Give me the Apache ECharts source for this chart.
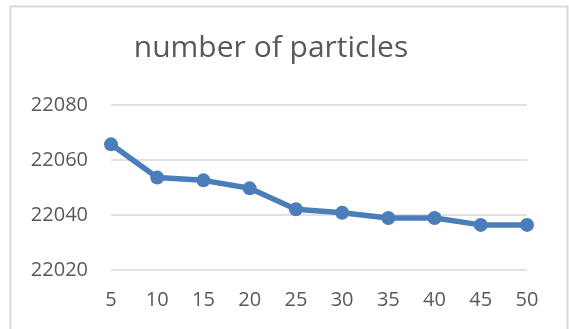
<!DOCTYPE html>
<html>
<head>
<meta charset="utf-8">
<script src="https://cdn.jsdelivr.net/npm/echarts@6/dist/echarts.min.js"></script>
<style>
  html, body { margin: 0; padding: 0; background: #fff; }
  #chart { width: 569px; height: 329px; }
</style>
</head>
<body>
<div id="chart"></div>
<script>
// Iteration counts on the x axis
const categories = ['5', '10', '15', '20', '25', '30', '35', '40', '45', '50'];
// Particle count per iteration setting
const particles = [22065.7, 22053.6, 22052.6, 22049.7, 22042.1, 22040.8, 22038.9, 22038.9, 22036.4, 22036.4];
// Value axis range and step
const yMin = 22020;
const yMax = 22080;
const yStep = 20;

const chart = echarts.init(document.getElementById('chart'), null, { renderer: 'canvas' });
const textColor = '#595959';
const font = '"Open Sans", "Liberation Sans", sans-serif';

chart.setOption({
  backgroundColor: '#ffffff',
  animation: false,
  title: {
    text: 'number of particles',
    left: 266,
    top: 28,
    textAlign: 'center',
    textStyle: { color: textColor, fontFamily: font, fontSize: 30, fontWeight: 'normal' }
  },
  graphic: [{
    type: 'rect',
    silent: true,
    shape: { x: 10.5, y: 6.5, width: 557, height: 340 },
    style: { fill: 'none', stroke: '#d9d9d9', lineWidth: 2 }
  }],
  grid: { left: 111, right: 42, top: 105, bottom: 59 },
  xAxis: {
    type: 'category',
    data: categories,
    boundaryGap: false,
    axisLine: { show: false },
    axisTick: { show: false },
    axisLabel: { color: textColor, fontFamily: font, fontSize: 20, margin: 20 },
    splitLine: { show: false }
  },
  yAxis: {
    type: 'value',
    min: yMin,
    max: yMax,
    interval: yStep,
    axisLine: { show: false },
    axisTick: { show: false },
    axisLabel: {
      color: textColor, fontFamily: font, fontSize: 20, margin: 23,
      formatter: (v) => String(v)
    },
    splitLine: { lineStyle: { color: '#d9d9d9', width: 1.5 } }
  },
  series: [{
    type: 'line',
    data: particles,
    symbol: 'circle',
    symbolSize: 14,
    lineStyle: { color: '#4a7ebb', width: 5.5 },
    itemStyle: { color: '#4a7ebb' }
  }]
});
</script>
</body>
</html>
